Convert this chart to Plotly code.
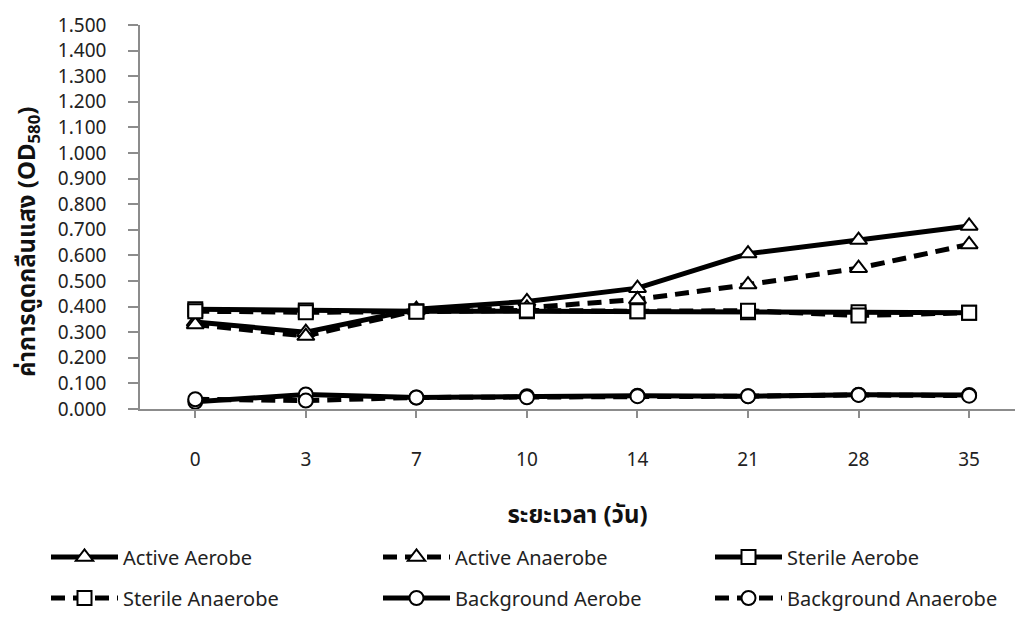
import plotly.graph_objects as go

days = ["0", "3", "7", "10", "14", "21", "28", "35"]
active_aerobe = [0.340, 0.300, 0.390, 0.420, 0.472, 0.607, 0.660, 0.715]
active_anaerobe = [0.330, 0.285, 0.385, 0.395, 0.428, 0.486, 0.550, 0.643]
sterile_aerobe = [0.390, 0.385, 0.382, 0.382, 0.382, 0.378, 0.378, 0.376]
sterile_anaerobe = [0.382, 0.378, 0.380, 0.385, 0.382, 0.384, 0.365, 0.376]
background_aerobe = [0.028, 0.057, 0.045, 0.050, 0.052, 0.050, 0.056, 0.055]
background_anaerobe = [0.038, 0.033, 0.045, 0.046, 0.050, 0.050, 0.055, 0.052]

x_title = "ระยะเวลา (วัน)"
y_title = "ค่าการดูดกลืนแสง (OD<sub>580</sub>)"

series = [
    ("Active Aerobe", active_aerobe, "solid", "triangle-up"),
    ("Active Anaerobe", active_anaerobe, "dash", "triangle-up"),
    ("Sterile Aerobe", sterile_aerobe, "solid", "square"),
    ("Sterile Anaerobe", sterile_anaerobe, "dash", "square"),
    ("Background Aerobe", background_aerobe, "solid", "circle"),
    ("Background Anaerobe", background_anaerobe, "dash", "circle"),
]

W, H = 1015, 617
M_L, M_R, M_T, M_B = 140, 0, 25, 208
# legend slot positions (container pixels): column left edges, row centres
leg_cols = [46, 378, 710]
leg_rows = [557, 598]

FONT = "Noto Sans, Noto Sans Thai, DejaVu Sans, sans-serif"

fig = go.Figure()
legends = {}
for i, (name, vals, dash, sym) in enumerate(series):
    leg_id = "legend" if i == 0 else f"legend{i + 1}"
    fig.add_trace(go.Scatter(
        x=list(range(len(days))), y=vals, name=name, mode="lines+markers",
        line=dict(color="black", width=5, dash="14px,8px" if dash == "dash" else "solid"),
        marker=dict(symbol=sym, size=15 if sym == "triangle-up" else 14,
                    color="white", line=dict(color="black", width=2)),
        legend=leg_id, cliponaxis=False, showlegend=True,
    ))
    col, row = i % 3, i // 3
    legends[leg_id] = dict(
        xref="container", yref="container",
        x=leg_cols[col] / W, y=1 - leg_rows[row] / H,
        xanchor="left", yanchor="middle",
        font=dict(family=FONT, size=20, color="#222"),
        bgcolor="rgba(0,0,0,0)", itemwidth=67,
    )

plot_w = W - M_L - M_R
plot_h = H - M_T - M_B

fig.update_layout(
    width=W, height=H,
    margin=dict(l=M_L, r=M_R, t=M_T, b=M_B, autoexpand=False),
    paper_bgcolor="white", plot_bgcolor="white",
    font=dict(family=FONT, size=19, color="#222"),
    **legends,
    xaxis=dict(
        tickmode="array", tickvals=list(range(len(days))), ticktext=days,
        range=[-0.5, 7.415], showgrid=False, zeroline=False, automargin=False,
        showline=True, linecolor="#8c8c8c", linewidth=1.5,
        ticks="outside", ticklen=7, tickcolor="#8c8c8c", tickwidth=1.5,
        ticklabelstandoff=25,
        tickfont=dict(size=19, color="#222"),
        title=dict(text="<b>" + x_title + "</b>", font=dict(size=24, color="#111"), standoff=36),
    ),
    yaxis=dict(
        range=[0, 1.5], dtick=0.1, tick0=0, tickformat=".3f",
        showgrid=False, zeroline=False, automargin=False,
        showline=True, linecolor="#8c8c8c", linewidth=1.5,
        ticks="outside", ticklen=10, tickcolor="#8c8c8c", tickwidth=1.5,
        ticklabelstandoff=18,
        tickfont=dict(size=19, color="#222"),
    ),
    annotations=[dict(
        text="<b>" + y_title + "</b>", textangle=-90,
        xref="paper", yref="paper",
        x=(27 - M_L) / plot_w, y=(H - M_B - 242) / plot_h,
        xanchor="center", yanchor="middle", showarrow=False,
        font=dict(family=FONT, size=24, color="#111"),
    )],
)

fig.write_html("out.html")
